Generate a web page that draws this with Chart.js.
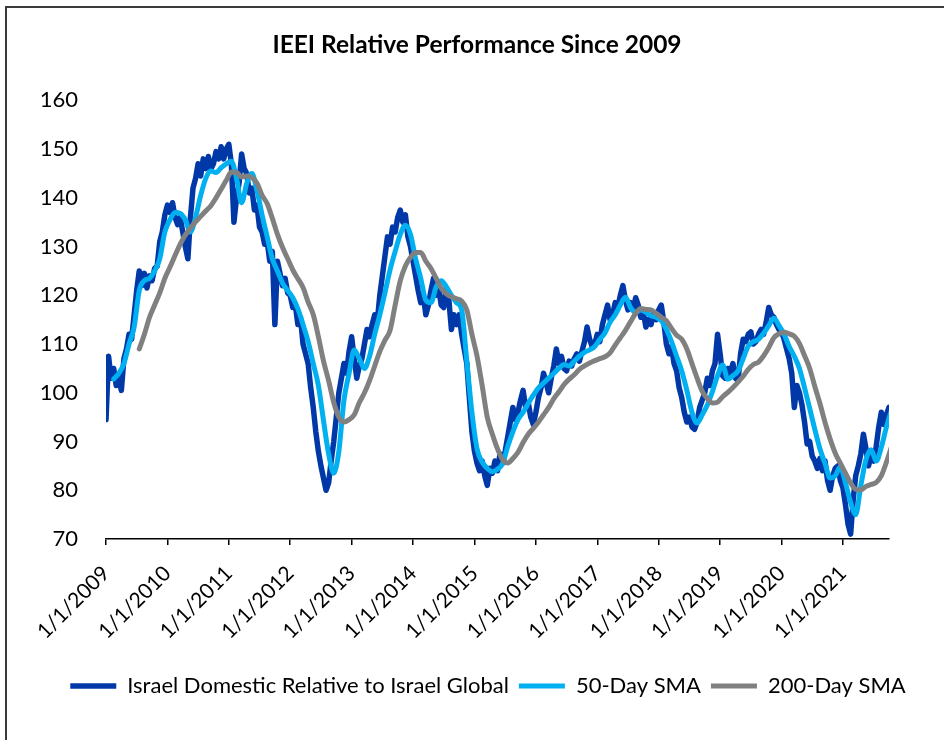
<!DOCTYPE html>
<html>
<head>
<meta charset="utf-8">
<script src="https://cdn.jsdelivr.net/npm/chart.js@4.4.1/dist/chart.umd.min.js"></script>
<style>
  html, body { margin: 0; padding: 0; background: #fff; overflow: hidden; }
  #frame { position: absolute; left: 5px; top: 6px; width: 2000px; height: 2000px;
           border-left: 2px solid #3a3a3a; border-top: 2px solid #3a3a3a; }
  #wrap { position: absolute; left: 0; top: 0; width: 944px; height: 740px; }
</style>
</head>
<body>
<div id="frame"></div>
<div id="wrap"><canvas id="myChart" width="944" height="740"></canvas></div>
<script>
// Israel Domestic Relative to Israel Global, half-month samples from 1/1/2009
const domStart = 2009;
const domPerYear = 24;
const domValues = [
  // 2009
  94.5, 107.5, 103, 105, 101.5, 103, 100.5, 107, 109, 112, 111, 116,
  121, 125, 122, 124.5, 121.5, 124, 123, 125.5, 126, 131, 133, 136.5,
  // 2010
  138.5, 137, 139, 136, 134.5, 136, 133, 130, 127.5, 136, 142, 144,
  147, 144.5, 148, 146, 148.5, 146, 147, 149.5, 148, 150.5, 148, 150,
  // 2011
  151, 147, 135, 140, 143, 149, 146, 145, 141, 142, 137.5, 138.5,
  134, 133, 130.5, 131, 127, 129, 114, 127, 124.5, 122, 123.5, 120.5,
  // 2012
  120, 117.5, 118, 114, 115.5, 110, 108, 106, 101, 97, 92, 88,
  85, 82.5, 80, 81.5, 86, 90, 95, 100, 103, 106, 104, 108.5,
  // 2013
  111.5, 107, 103, 105.5, 107, 110, 113, 111.5, 114, 116, 114.5, 120,
  124, 128, 132, 130.5, 134, 133, 136, 137.5, 135, 136.5, 132, 130,
  // 2014
  127, 124, 121, 118.5, 120, 116, 118, 121, 123.5, 120, 121.5, 118,
  117.5, 121.5, 119, 113, 116, 114, 116, 112, 109, 106, 99, 92,
  // 2015
  88, 85.5, 84, 86, 83, 81, 84.5, 83.5, 86, 84, 87.5, 85.5,
  88, 91, 94, 97, 94.5, 96, 98.5, 100.5, 97, 98, 95, 93.5,
  // 2016
  96, 99, 101, 104, 102, 100, 103, 105.5, 109, 106, 107.5, 105,
  104.5, 106.5, 105.5, 107, 108, 106.5, 108.5, 110.5, 113.5, 111, 109.5, 110,
  // 2017
  112, 110.5, 114, 116, 118, 115, 116, 118.5, 117.5, 120, 122, 119,
  117, 118.5, 117, 119.5, 118, 115.5, 116.5, 113.5, 115, 114, 116.5, 115,
  // 2018
  117, 118, 114.5, 110, 108, 109.5, 106, 104.5, 101, 99, 96, 94,
  95, 93, 92.5, 94, 97, 98.5, 100, 103, 101.5, 104.5, 106, 112,
  // 2019
  108, 103.5, 103, 105, 104, 106, 103, 102.5, 108, 111, 110.5, 112,
  112.5, 110, 110.5, 112, 113, 112, 114.5, 117.5, 116, 115.5, 114, 113,
  // 2020
  112.5, 111, 109, 107, 104, 97, 101.5, 100, 97.5, 94, 89.5, 90,
  87, 86, 84.5, 86.5, 84, 86, 82, 80, 83, 84.5, 85, 82,
  // 2021
  80.5, 77, 73, 71, 78, 83, 85, 87.5, 91.5, 88.5, 85, 87,
  86, 89, 93, 96, 93.5, 95.5, 97
];

// 50-Day SMA, monthly samples from mid-Feb 2009
const fastStart = 2009.125;
const fastValues = [
  102.8, 104, 106, 110, 113.5, 121, 123, 123.5, 125, 127.5, 133,
  135.5, 137, 136.8, 135.5, 133, 136, 140.5, 144, 145.5, 145.2, 146.2, 147,
  147.5, 144, 139, 143, 145, 141.5, 136.5, 132, 127.5, 125, 122.5, 121,
  119.5, 117.2, 114, 110.5, 106, 101.5, 94.3, 87.5, 83.5, 88, 98.5, 104,
  108.8, 107, 105, 107.5, 112, 116, 120.5, 125.2, 129, 132.5, 134.4, 132.5,
  127.5, 123.5, 119, 118.5, 121.7, 123, 121.8, 120, 118.5, 117, 106.5, 96,
  88.5, 85.8, 84.5, 83.8, 84.3, 85.5, 89, 92, 94.5, 96, 97.8, 99.5,
  101, 102, 103, 104, 105, 105.8, 105.5, 106.5, 107.5, 108.3, 108.8, 109.5,
  111, 112.3, 114.5, 116, 118, 119.6, 117.5, 116.5, 117, 116.5, 115.8, 115.5,
  114.8, 113, 110.5, 107.5, 104.5, 100.5, 96, 93.8, 95.5, 97.5, 100.3, 103.5,
  105.7, 102.8, 103.5, 104.5, 107, 109.6, 110.5, 111, 112.2, 113.8, 115.3, 113.8,
  112, 109.5, 107.5, 105, 101, 96.8, 92.5, 88.5, 85.5, 82.5, 83, 84.8,
  81.5, 77.5, 75, 81, 86.3, 88.3, 86, 88.8, 93, 96.5
];

// 200-Day SMA, monthly samples from mid-Jul 2009
const slowStart = 2009.542;
const slowValues = [
  109, 112, 115.5, 118, 120.5, 123.5,
  125.8, 128.2, 130.5, 132.4, 133.8, 135.1, 136.2, 137.3, 138.4, 140, 141.8, 143.6,
  145.3, 145.2, 144.3, 144.5, 144.2, 143, 140.5, 138.8, 135.8, 132.5, 129.8, 127.5,
  125.2, 123.4, 121.6, 118.6, 116, 111.5, 106.5, 102.5, 98, 95, 94, 94.5,
  95.5, 98, 100, 102.5, 105.5, 108.5, 110.8, 112.8, 118, 123, 126, 127.8,
  128.8, 128.8, 127, 125.5, 123.5, 121.5, 120.3, 119.7, 119.3, 118.8, 117, 112,
  107.5, 101.5, 95, 91.5, 88.5, 86.3, 85.6, 86.5, 87.8, 89.8, 91.5, 92.7,
  94, 95.5, 97, 98.8, 100.2, 101.7, 102.8, 103.7, 104.8, 105.5, 106.1, 106.6,
  107, 107.4, 108.2, 109.8, 111.3, 112.8, 114.6, 116.3, 117.3, 117.1, 117, 116.3,
  115.5, 114.8, 113.2, 111.8, 111, 109, 106, 103, 100.3, 98.8, 97.9, 98.1,
  99.2, 100.1, 101.1, 102.2, 103.4, 104.8, 105.8, 106.3, 107.6, 109.3, 111.3, 112.1,
  112.4, 112.1, 111.6, 110.1, 107.6, 105, 101.3, 97.8, 93.9, 90.5, 87.6, 85.5,
  83.5, 81.5, 80.2, 80.1, 80.8, 81.2, 81.6, 83, 85.8, 89
];

const seriesNames = ["Israel Domestic Relative to Israel Global", "50-Day SMA", "200-Day SMA"];
const seriesColors = ["#0038a8", "#00b0f0", "#808080"];
const yTicks = [70, 80, 90, 100, 110, 120, 130, 140, 150, 160];
const xFirstYear = 2009;
const xLastDate = 2021.75;

const toPoints = (start, perYear, vals) => vals.map((v, i) => ({ x: start + i / perYear, y: v }));

const font = "Lato";

// nudge the title a bit left, like the original
const shiftTitle = {
  id: "shiftTitle",
  afterLayout(chart) {
    chart.titleBlock.left -= 11;
    chart.titleBlock.right -= 11;
  }
};

const myChart = new Chart(document.getElementById("myChart"), {
  type: "line",
  plugins: [shiftTitle],
  data: {
    datasets: [
      {
        label: seriesNames[0],
        data: toPoints(domStart, domPerYear, domValues),
        borderColor: seriesColors[0],
        backgroundColor: seriesColors[0],
        borderWidth: 5.5,
        pointRadius: 0,
        tension: 0,
        borderJoinStyle: "round",
        borderCapStyle: "round",
        order: 2
      },
      {
        label: seriesNames[1],
        data: toPoints(fastStart, 12, fastValues),
        borderColor: seriesColors[1],
        backgroundColor: seriesColors[1],
        borderWidth: 5,
        pointRadius: 0,
        cubicInterpolationMode: "monotone",
        borderCapStyle: "round",
        order: 1
      },
      {
        label: seriesNames[2],
        data: toPoints(slowStart, 12, slowValues),
        borderColor: seriesColors[2],
        backgroundColor: seriesColors[2],
        borderWidth: 5,
        pointRadius: 0,
        cubicInterpolationMode: "monotone",
        borderCapStyle: "round",
        order: 0
      }
    ]
  },
  options: {
    responsive: false,
    animation: false,
    layout: { padding: { top: 20, left: 32, right: 0, bottom: 33 } },
    plugins: {
      title: {
        display: true,
        text: "IEEI Relative Performance Since 2009",
        color: "#000",
        font: { family: font, size: 24.5, weight: "bold" },
        padding: { top: 10, bottom: 41 }
      },
      legend: {
        position: "bottom",
        labels: {
          color: "#000",
          font: { family: font, size: 22 },
          usePointStyle: true,
          pointStyle: "line",
          pointStyleWidth: 46,
          padding: 10,
          sort: (a, b) => a.datasetIndex - b.datasetIndex
        }
      },
      tooltip: { enabled: false }
    },
    scales: {
      x: {
        type: "linear",
        min: xFirstYear,
        max: xLastDate,
        border: { display: true, color: "#000", width: 1.5 },
        grid: { display: true, drawOnChartArea: false, drawTicks: true, tickLength: 6, color: "#000", lineWidth: 1.5 },
        ticks: {
          stepSize: 1,
          includeBounds: false,
          autoSkip: false,
          maxRotation: 45,
          minRotation: 45,
          color: "#000",
          font: { family: font, size: 21 },
          padding: 16,
          callback: v => Number.isInteger(v) ? "1/1/" + v : ""
        },
        afterFit: s => { s.paddingLeft = 0; s.paddingRight = 0; s.height = 126; }
      },
      y: {
        min: yTicks[0],
        max: yTicks[yTicks.length - 1],
        border: { display: false },
        grid: { display: false },
        afterBuildTicks: axis => { axis.ticks = yTicks.map(v => ({ value: v })); },
        afterFit: s => { s.width = 74; },
        ticks: {
          color: "#000",
          font: { family: font, size: 22 },
          padding: 20
        }
      },
      // empty axis that only keeps the white gap right of the plot
      gap: {
        position: "right",
        border: { display: false },
        grid: { display: false },
        ticks: { display: false },
        afterFit: s => { s.width = 55; }
      }
    }
  }
});
</script>
</body>
</html>
